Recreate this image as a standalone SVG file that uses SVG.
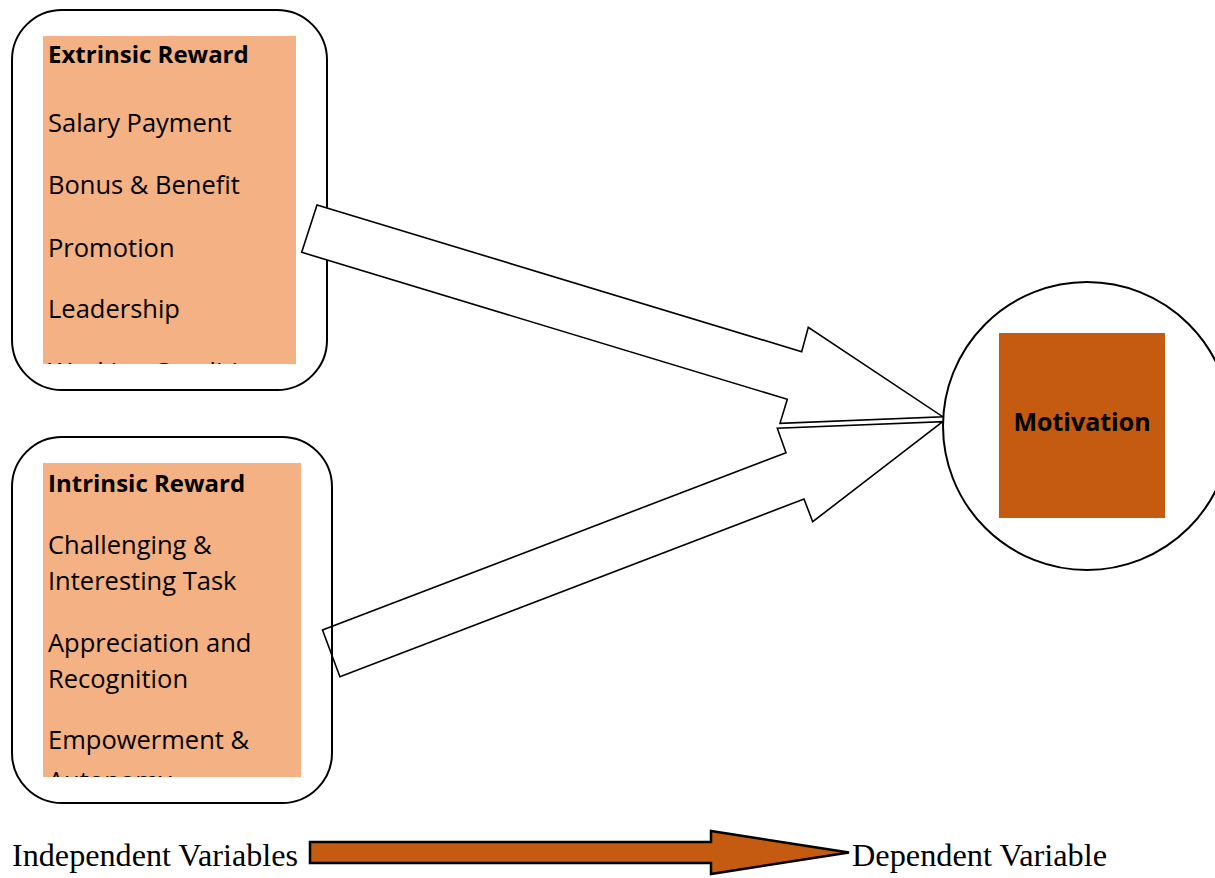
<svg xmlns="http://www.w3.org/2000/svg" width="1215" height="878" viewBox="0 0 1215 878">
<style>
.frame{fill:none;stroke:#000;stroke-width:2}
.panel{fill:#F4B183}
.t{font-family:"Open Sans","Noto Sans",sans-serif;font-size:25.5px;fill:#000}
.b{font-weight:bold;font-size:24px}
.arrow{fill:#fff;stroke:#000;stroke-width:1.6;stroke-linejoin:miter}
.leg{font-family:"Liberation Serif","Times New Roman",serif;font-size:31px;fill:#000}
</style>
<defs>
<clipPath id="clipTop"><rect x="43" y="36" width="253" height="328"/></clipPath>
<clipPath id="clipBot"><rect x="43" y="463" width="258" height="314"/></clipPath>
</defs>
<rect width="1215" height="878" fill="#fff"/>

<g id="extrinsic">
<rect class="frame" x="12" y="10" width="315" height="380" rx="50" ry="50" fill="#fff"/>
<rect class="panel" x="43" y="36" width="253" height="328"/>
<g clip-path="url(#clipTop)">
<text class="t b" x="48" y="63">Extrinsic Reward</text>
<text class="t" x="48" y="132">Salary Payment</text>
<text class="t" x="48" y="194">Bonus &amp; Benefit</text>
<text class="t" x="48" y="257">Promotion</text>
<text class="t" x="48" y="318">Leadership</text>
<text class="t" x="48" y="381">Working Conditions</text>
</g>
</g>

<g id="connectors">
<polygon id="arrow-top" class="arrow" points="317,205 301.7,252.3 787.3,399.3 780,423.3 942.7,416.7 808.3,327.3 801.7,351.7"/>
<polygon id="arrow-bottom" class="arrow" points="322.5,630 339.9,676.7 804,499 812.7,521.7 942.7,421.7 777.3,428.3 786,452.7"/>
</g>

<g id="intrinsic">
<rect class="panel" x="43" y="463" width="258" height="314"/>
<g clip-path="url(#clipBot)">
<text class="t b" x="48" y="492">Intrinsic Reward</text>
<text class="t" x="48" y="554">Challenging &amp;</text>
<text class="t" x="48" y="590">Interesting Task</text>
<text class="t" x="48" y="652">Appreciation and</text>
<text class="t" x="48" y="688">Recognition</text>
<text class="t" x="48" y="749">Empowerment &amp;</text>
<text class="t" x="48" y="790">Autonomy</text>
</g>
<rect class="frame" x="12" y="437" width="320" height="366" rx="50" ry="50"/>
</g>

<g id="motivation">
<ellipse cx="1087" cy="426" rx="144" ry="144" fill="#fff" stroke="#000" stroke-width="2"/>
<rect x="999" y="333" width="166" height="185" fill="#C55A11"/>
<text class="t b" x="1082" y="431" text-anchor="middle" style="font-size:25px">Motivation</text>
</g>

<g id="legend">
<text class="leg" x="12" y="866" textLength="286" lengthAdjust="spacingAndGlyphs">Independent Variables</text>
<polygon points="310,842 711,842 711,831 849,852.5 711,874 711,863 310,863" fill="#C55A11" stroke="#000" stroke-width="2.5" stroke-linejoin="miter"/>
<text class="leg" x="852" y="866" textLength="255" lengthAdjust="spacingAndGlyphs">Dependent Variable</text>
</g>
</svg>
